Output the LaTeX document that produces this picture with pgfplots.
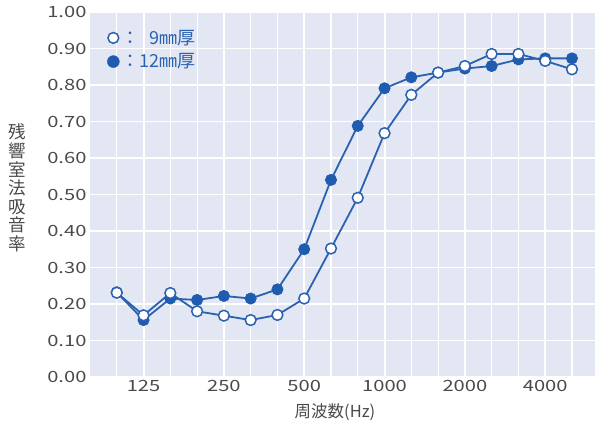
\documentclass[border=0pt]{standalone}
\usepackage{fontspec}
\setmainfont{Noto Sans CJK JP}
\newfontfamily\tickfont[FakeStretch=1.3]{Noto Sans CJK JP}
\usepackage{pgfplots}
\pgfplotsset{compat=1.18}
\definecolor{bg}{HTML}{E3E7F3}
\definecolor{lineblue}{HTML}{2B62B0}
\definecolor{markblue}{HTML}{1F5CAF}
\definecolor{txt}{HTML}{4A4A4A}
\begin{document}
\begin{tikzpicture}
\useasboundingbox (-90pt,-46pt) rectangle (505pt,377pt);
\begin{axis}[
  at={(0,0)}, anchor=south west,
  scale only axis, width=505pt, height=365pt,
  xmin=-1, xmax=17.86, ymin=0, ymax=1,
  axis line style={draw=none},
  axis background/.style={fill=bg},
  tick style={draw=none},
  xtick={1,4,7,10,13,16},
  xticklabels={125,250,500,1000,2000,4000},
  minor xtick={0,2,3,5,6,8,9,11,12,14,15,17},
  ytick={0,0.1,0.2,0.3,0.4,0.5,0.6,0.7,0.8,0.9,1.0},
  yticklabels={0.00,0.10,0.20,0.30,0.40,0.50,0.60,0.70,0.80,0.90,1.00},
  xmajorgrids, xminorgrids, ymajorgrids,
  major x grid style={white, line width=2pt},
  minor x grid style={white, line width=1.1pt},
  major y grid style={white, line width=1.3pt},
  /pgf/number format/assume math mode=true,
  xticklabel style={font=\fontsize{15.5}{16}\tickfont, text=txt},
  yticklabel style={font=\fontsize{15.5}{16}\tickfont, text=txt},
  xlabel={周波数(Hz)},
  xlabel style={at={(axis description cs:0.485,-0.096)}, anchor=center, font=\fontsize{16.5}{17}\selectfont, text=txt},
  ylabel={残\\響\\室\\法\\吸\\音\\率},
  ylabel style={at={(axis description cs:-0.145,0.518)}, anchor=center, rotate=-90, align=center, font=\fontsize{17.5}{18.6}\selectfont, text=txt},
  legend style={at={(axis description cs:0.028,0.962)}, anchor=north west, draw=none, fill=none,
    font=\fontsize{18}{19}\selectfont, text=lineblue, row sep=4pt,
    nodes={inner xsep=2pt}},
  legend cell align=left,
]
\addlegendimage{only marks, color=lineblue, mark=*, mark size=5.4pt, mark options={fill=white, draw=lineblue, line width=1.5pt}}
\addlegendentry{：\phantom{1}9㎜厚}
\addlegendimage{only marks, color=markblue, mark=*, mark size=6pt, mark options={fill=markblue, draw=markblue}}
\addlegendentry{：12㎜厚}
% 12 mm (filled)
\addplot[forget plot, color=lineblue, line width=1.8pt, mark=*, mark size=5.6pt, mark options={fill=markblue, draw=markblue, line width=0.8pt}] coordinates {
(0,0.232) (1,0.156) (2,0.215) (3,0.211) (4,0.222) (5,0.215) (6,0.240) (7,0.350)
(8,0.540) (9,0.688) (10,0.791) (11,0.821) (12,0.834) (13,0.845) (14,0.852) (15,0.870) (16,0.873) (17,0.873)};
% 9 mm (open)
\addplot[forget plot, color=lineblue, line width=1.8pt, mark=*, mark size=5.4pt, mark options={fill=white, draw=lineblue, line width=1.5pt}] coordinates {
(0,0.231) (1,0.169) (2,0.230) (3,0.180) (4,0.168) (5,0.156) (6,0.170) (7,0.215)
(8,0.352) (9,0.491) (10,0.668) (11,0.773) (12,0.834) (13,0.852) (14,0.885) (15,0.885) (16,0.866) (17,0.843)};
\end{axis}
\end{tikzpicture}
\end{document}
